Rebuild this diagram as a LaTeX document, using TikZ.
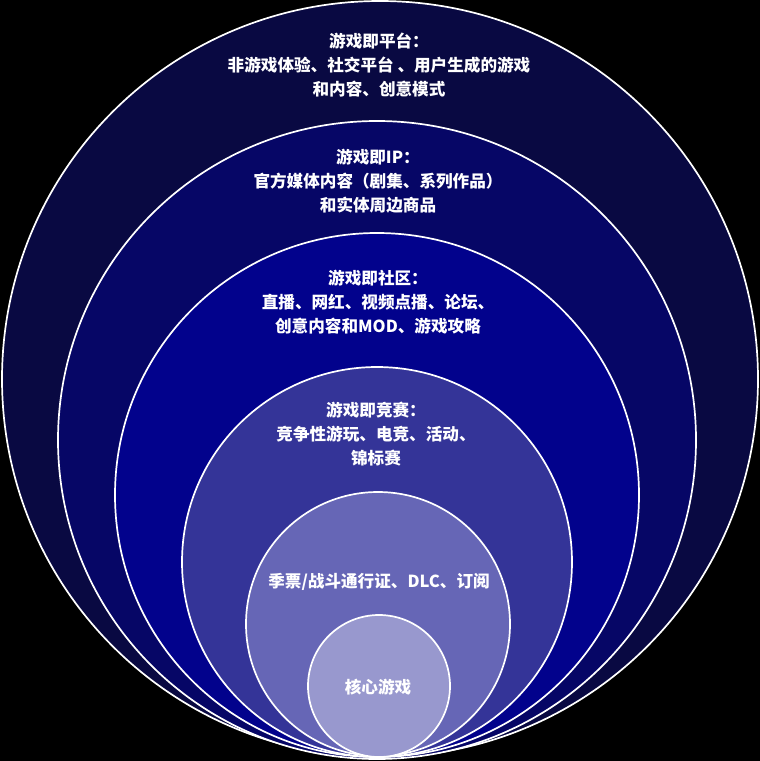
\documentclass[tikz,border=0pt]{standalone}
\usepackage{fontspec}
\setmainfont{Noto Sans CJK SC}
\begin{document}
\begin{tikzpicture}[x=1pt,y=-1pt,
  ring/.style={circle,draw=white,line width=1.7pt,inner sep=0pt,minimum size=#1},
  lbl/.style={text=white,font=\fontsize{16.6}{24}\selectfont\bfseries,align=center,inner sep=0pt}]
\fill[black] (0,0) rectangle (760,761);
\useasboundingbox (0,0) rectangle (760,761);
\definecolor{c1}{RGB}{9,9,66}
\definecolor{c2}{RGB}{6,6,102}
\definecolor{c3}{RGB}{2,2,140}
\definecolor{c4}{RGB}{52,52,152}
\definecolor{c5}{RGB}{102,102,182}
\definecolor{c6}{RGB}{152,152,206}
\node[ring=756pt,fill=c1] (r1) at (380,379) {};
\node[ring=638pt,fill=c2] (r2) at (377,440) {};
\node[ring=524pt,fill=c3] (r3) at (377,495) {};
\node[ring=390pt,fill=c4] (r4) at (377,562) {};
\node[ring=264pt,fill=c5] (r5) at (378,624) {};
\node[ring=142pt,fill=c6] (r6) at (379,686) {};
\node[lbl] (t1) at (379,65) {游戏即平台：\\非游戏体验、社交平台 、用户生成的游戏\\和内容、创意模式};
\node[lbl] (t2) at (378,181) {游戏即IP：\\官方媒体内容（剧集、系列作品）\\和实体周边商品};
\node[lbl] (t3) at (378,302) {游戏即社区：\\直播、网红、视频点播、论坛、\\创意内容和MOD、游戏攻略};
\node[lbl] (t4) at (376,434) {游戏即竞赛：\\竞争性游玩、电竞、活动、\\锦标赛};
\node[lbl] (t5) at (379,582) {季票/战斗通行证、DLC、订阅};
\node[lbl] (t6) at (378,687) {核心游戏};
\end{tikzpicture}
\end{document}
